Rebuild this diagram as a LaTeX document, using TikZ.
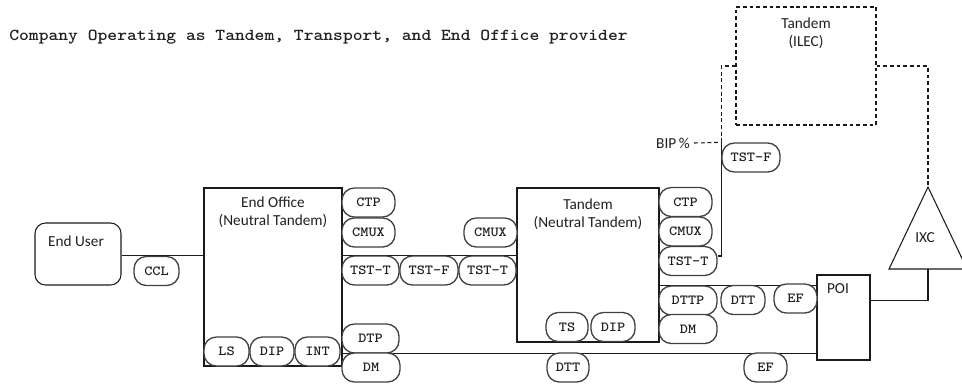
\documentclass[tikz,border=0pt]{standalone}
\usepackage{fontspec}
\usepackage{xcolor}
\usetikzlibrary{calc,backgrounds}
\newfontfamily\lblfont{Carlito}
\newfontfamily\titlefamily{lmmonolt10-bold.otf}[FakeStretch=1.12]
\newfontfamily\pillfamily{lmmonolt10-bold.otf}[FakeStretch=1.12]
\definecolor{cborde}{HTML}{1A1A1A}
\definecolor{cpill}{HTML}{404040}
\definecolor{ctexto}{HTML}{202020}
\tikzset{
  caja/.style={rectangle, draw=cborde, line width=0.6pt, inner sep=0pt},
  pill/.style={rectangle, rounded corners=7pt, draw=cpill, fill=white, line width=0.75pt,
    inner sep=0pt, minimum height=0.58cm, minimum width=#1*0.02cm,
    text=ctexto, font=\pillfamily\fontsize{7.9}{8}\selectfont},
  pill/.default=53,
  etq/.style={font=\lblfont\fontsize{8.7}{10}\selectfont, text=ctexto, inner sep=0pt},
  linea/.style={draw=cborde, line width=0.6pt},
  trazos/.style={draw=cborde, line width=0.6pt, dash pattern=on 2.2pt off 1.6pt},
}
\begin{document}
\begin{tikzpicture}[x=0.02cm, y=-0.02cm]
  \useasboundingbox (0,0) rectangle (962,383);
  \node[anchor=west, inner sep=0pt, text=ctexto, font=\titlefamily\fontsize{9.5}{10}\selectfont] (titulo) at (9,37)
    {Company Operating as Tandem, Transport, and End Office provider};

  % main boxes
  \node[caja, rounded corners=6pt, minimum width=86*0.02cm, minimum height=62*0.02cm] (user) at (78,254) {};
  \node[etq] (userlbl) at (76,241) {End User};
  \node[caja, minimum width=138*0.02cm, minimum height=178*0.02cm] (eo) at (273,277) {};
  \node[etq, align=center] (eolbl) at (273,212) {End Office\\(Neutral Tandem)};
  \node[caja, minimum width=142*0.02cm, minimum height=154*0.02cm] (tan) at (588,265) {};
  \node[etq, align=center] (tanlbl) at (588,214) {Tandem\\(Neutral Tandem)};
  \node[caja, minimum width=53*0.02cm, minimum height=85*0.02cm] (poi) at (843.5,317.5) {};
  \node[etq] (poilbl) at (838,289) {POI};
  \node[caja, trazos, minimum width=140*0.02cm, minimum height=118*0.02cm] (ilec) at (806,66) {};
  \node[etq, align=center] (ileclbl) at (806,33) {Tandem\\(ILEC)};
  \coordinate (ixctop) at (928,187);
  \coordinate (ixcbase) at (928,269);
  \draw[linea] (ixctop) -- (889,269) -- (967,269) -- cycle;
  \node[etq] (ixc) at (925,238) {IXC};
  \node[etq] (bip) at (673,143) {BIP\,\%};

  % rate elements
  \node[pill=45] (ccl) at (156.5,271) {CCL};
  \node[pill=45] (ls) at (226.5,351.5) {LS};
  \node[pill=44] (dipA) at (272,351.5) {DIP};
  \node[pill=45] (int) at (317.5,351.5) {INT};
  \node[pill] (ctpA) at (368.5,202.5) {CTP};
  \node[pill] (cmuxA) at (368.5,232.5) {CMUX};
  \node[pill=57] (ttEO) at (370.5,270.5) {TST-T};
  \node[pill=58] (tfMid) at (429,270.5) {TST-F};
  \node[pill=57] (ttMid) at (487.5,270.5) {TST-T};
  \node[pill] (cmuxMid) at (490.5,232.5) {CMUX};
  \node[pill=57] (dtp) at (370.5,338.5) {DTP};
  \node[pill=58] (dmA) at (371,367.5) {DM};
  \node[pill=42] (ts) at (567,327) {TS};
  \node[pill=44] (dipB) at (613,327) {DIP};
  \node[pill] (ctpB) at (685.5,202) {CTP};
  \node[pill] (cmuxB) at (685.5,231.5) {CMUX};
  \node[pill=58] (ttTan) at (688,261) {TST-T};
  \node[pill=58] (dttp) at (688,300.5) {DTTP};
  \node[pill=58] (dmB) at (688,329) {DM};
  \node[pill=44] (dttA) at (743,300) {DTT};
  \node[pill=43] (efA) at (795.5,298.5) {EF};
  \node[pill=42] (dttB) at (568,367.5) {DTT};
  \node[pill=43] (efB) at (765.5,367.5) {EF};
  \node[pill=58] (tfUp) at (751,157.5) {TST-F};

  % connectors
  \begin{scope}[on background layer]
    \draw[linea] (ccl.north -| user.east) -- (ccl.north -| eo.west);
    \draw[linea] (ttEO.north -| eo.east) -- (ttEO.north -| tan.west);
    \draw[linea] (dtp.south -| eo.east) -- (dtp.south -| poi.west);
    \draw[linea] (dttp.north -| tan.east) -- (dttp.north -| poi.west);
    \draw[linea] ([yshift=0.1cm]ttTan.east) -| (tfUp.north west);
    \draw[trazos] (tfUp.north west) |- (ilec.west);
    \draw[trazos] (bip.east) ++(4,0) -- (tfUp.north west);
    \draw[trazos] (ilec.east) -| (ixctop);
    \draw[linea] (ixcbase) |- ($(poi.north east)!0.3!(poi.south east)$);
  \end{scope}
\end{tikzpicture}
\end{document}
